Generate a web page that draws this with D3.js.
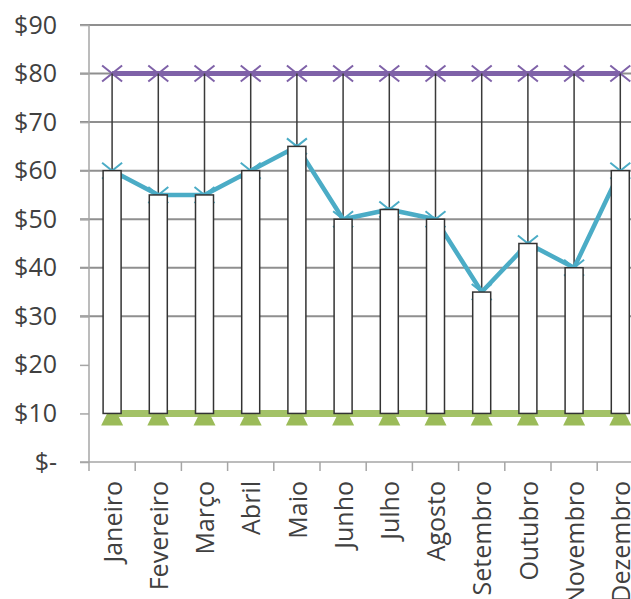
<!DOCTYPE html>
<html>
<head>
<meta charset="utf-8">
<script src="https://cdn.jsdelivr.net/npm/d3@7"></script>
<style>
  body { margin: 0; background: #fff; overflow: hidden; }
  text { font-family: "Open Sans", sans-serif; fill: #404040; }
</style>
</head>
<body>
<div id="chart"></div>
<script>
// months on the x axis
const months = ['Janeiro', 'Fevereiro', 'Março', 'Abril', 'Maio', 'Junho',
  'Julho', 'Agosto', 'Setembro', 'Outubro', 'Novembro', 'Dezembro'];
// closing value of each month (top of the white bar, cyan line)
const closeValues = [60, 55, 55, 60, 65, 50, 52, 50, 35, 45, 40, 60];
// upper limit (purple) and lower limit (green)
const highValues = [80, 80, 80, 80, 80, 80, 80, 80, 80, 80, 80, 80];
const lowValues = [10, 10, 10, 10, 10, 10, 10, 10, 10, 10, 10, 10];
// y axis ticks
const yTicks = [0, 10, 20, 30, 40, 50, 60, 70, 80, 90];
const yGridTicks = [30, 40, 50, 60, 70, 80, 90];

const W = 631, H = 599;
const margin = {top: 25, left: 89, bottom: 137};

const svg = d3.select('#chart').append('svg')
  .attr('width', W)
  .attr('height', H);

const x = d3.scaleBand()
  .domain(months)
  .range([margin.left, margin.left + 12 * 46.2])
  .paddingInner(0)
  .paddingOuter(0);

const y = d3.scaleLinear()
  .domain([0, 90])
  .range([H - margin.bottom, margin.top]);

const cx = d => x(d) + x.bandwidth() / 2;
const barW = 18;

// gridlines
svg.append('g').selectAll('line')
  .data(yGridTicks).enter().append('line')
    .attr('x1', margin.left - 9)
    .attr('x2', W)
    .attr('y1', d => y(d))
    .attr('y2', d => y(d))
    .style('stroke', '#8f8f8f')
    .style('stroke-width', 2);

// y axis
const yAxis = d3.axisLeft(y)
  .tickValues(yTicks)
  .tickSize(9)
  .tickPadding(23)
  .tickFormat(d => d === 0 ? '$-' : '$' + d);

const yg = svg.append('g')
  .attr('transform', `translate(${margin.left},0)`)
  .call(yAxis);
yg.select('.domain').remove();
yg.selectAll('.tick line').style('stroke', '#a6a6a6').style('stroke-width', 1.5);
yg.selectAll('.tick text')
  .style('font-size', '25px')
  .style('fill', '#404040');
yg.append('line')
  .attr('x1', 0).attr('x2', 0)
  .attr('y1', y(90)).attr('y2', y(0))
  .style('stroke', '#a6a6a6')
  .style('stroke-width', 1.5);

// x axis
const xg = svg.append('g')
  .attr('transform', `translate(0,${y(0)})`);
xg.append('line')
  .attr('x1', margin.left - 9).attr('x2', W)
  .style('stroke', '#a6a6a6')
  .style('stroke-width', 1.5);
xg.selectAll('.xtick')
  .data(months).enter().append('line')
    .attr('class', 'xtick')
    .attr('x1', d => x(d)).attr('x2', d => x(d))
    .attr('y1', 0).attr('y2', 9)
    .style('stroke', '#a6a6a6')
    .style('stroke-width', 1.5);
xg.selectAll('.xlabel')
  .data(months).enter().append('text')
    .attr('class', 'xlabel')
    .attr('transform', d => `translate(${cx(d) + 1},19) rotate(-90)`)
    .attr('text-anchor', 'end')
    .attr('dy', '0.35em')
    .style('font-size', '25px')
    .text(d => d);

const series = (vals) => months.map((m, i) => ({m, v: vals[i]}));
const line = d3.line().x(d => cx(d.m)).y(d => y(d.v));

function xMarker(g, data, color) {
  g.selectAll('path.mk')
    .data(data).enter().append('path')
      .attr('class', 'mk')
      .attr('d', d => {
        const px = cx(d.m), py = y(d.v);
        return `M${px - 10},${py - 8}L${px + 10},${py + 8}M${px - 10},${py + 8}L${px + 10},${py - 8}`;
      })
      .style('stroke', color)
      .style('stroke-width', 2)
      .style('fill', 'none');
}

// purple upper limit
const high = svg.append('g');
high.append('path')
  .datum(series(highValues))
  .attr('d', line)
  .style('fill', 'none')
  .style('stroke', '#7f62a8')
  .style('stroke-width', 5);
xMarker(high, series(highValues), '#7f62a8');

// green lower limit
const low = svg.append('g');
low.append('path')
  .datum(series(lowValues))
  .attr('d', line)
  .style('fill', 'none')
  .style('stroke', '#a3c267')
  .style('stroke-width', 7);
low.selectAll('path.tri')
  .data(series(lowValues)).enter().append('path')
    .attr('class', 'tri')
    .attr('d', d => {
      const px = cx(d.m), py = y(d.v);
      return `M${px},${py - 10}L${px + 11},${py + 12}L${px - 11},${py + 12}Z`;
    })
    .style('fill', '#9bbb59');

// high-low lines
svg.append('g').selectAll('line')
  .data(series(highValues)).enter().append('line')
    .attr('x1', d => cx(d.m)).attr('x2', d => cx(d.m))
    .attr('y1', d => y(d.v))
    .attr('y2', (d, i) => y(lowValues[i]))
    .style('stroke', '#3a3a3a')
    .style('stroke-width', 1.5);

// cyan closing line
const close = svg.append('g');
close.append('path')
  .datum(series(closeValues))
  .attr('d', line)
  .style('fill', 'none')
  .style('stroke', '#4bacc6')
  .style('stroke-width', 4.5)
  .style('stroke-linejoin', 'round');
xMarker(close, series(closeValues), '#4bacc6');

// up bars
svg.append('g').selectAll('rect')
  .data(series(closeValues)).enter().append('rect')
    .attr('x', d => cx(d.m) - barW / 2)
    .attr('width', barW)
    .attr('y', d => y(d.v))
    .attr('height', (d, i) => y(lowValues[i]) - y(d.v))
    .style('fill', '#fff')
    .style('stroke', '#333')
    .style('stroke-width', 1.5);
</script>
</body>
</html>
